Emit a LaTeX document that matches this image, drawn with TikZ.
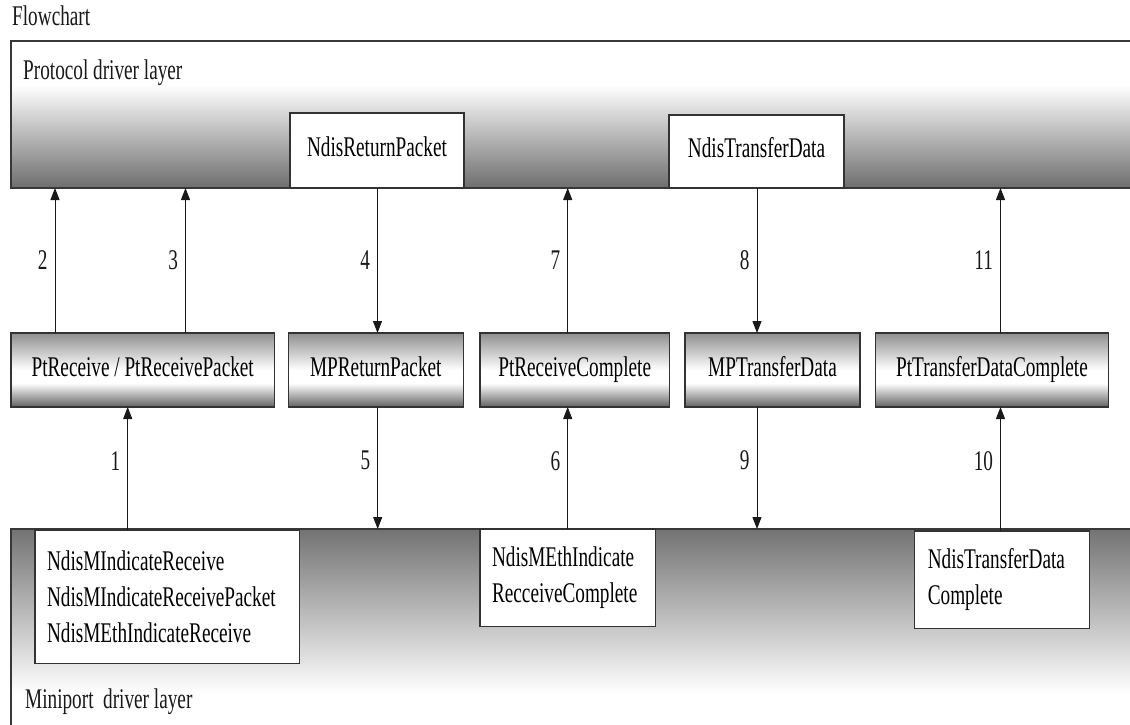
\documentclass[tikz,border=0pt]{standalone}
\usepackage{fontspec}
\setmainfont{Liberation Serif}[FakeStretch=0.675]
\usetikzlibrary{arrows.meta}
\pgfdeclareverticalshading{layertop}{100bp}{color(0bp)=(black!57); color(25bp)=(black!57); color(60bp)=(white); color(100bp)=(white)}
\pgfdeclareverticalshading{layerbot}{100bp}{color(0bp)=(white); color(33bp)=(white); color(75bp)=(black!55); color(100bp)=(black!55)}
\pgfdeclareverticalshading{midbox}{100bp}{color(0bp)=(black!62); color(25bp)=(black!62); color(41bp)=(white); color(50bp)=(white); color(75bp)=(black!44); color(100bp)=(black!44)}
\tikzset{
  layer/.style={draw=none, inner sep=0pt, outer sep=0pt, anchor=north west},
  layerline/.style={draw=black!78, line width=1.8pt},
  wbox/.style={draw=black!80, line width=1.3pt, fill=white, inner sep=0pt, outer sep=0pt},
  onel/.style={text height=20pt, text depth=8pt},
  gbox/.style={wbox, onel, shade, shading=midbox, minimum height=74pt},
  mbox/.style={wbox, align=left, inner xsep=12pt},
  arr/.style={line width=1pt, black!90, -{Triangle[length=12pt,width=9pt]}},
  num/.style={anchor=east, inner sep=0pt, xshift=-7pt, text=black!90},
  ttl/.style={anchor=base west, inner sep=0pt, text=black!90}
}
\begin{document}
\begin{tikzpicture}[x=1pt, y=-1pt, font=\fontsize{28.5}{36}\selectfont]
\useasboundingbox (0,0) rectangle (1130,725);
\fill[white] (0,0) rectangle (1130,725);

% title
\node[ttl] (title) at (12,26) {Flowchart};

% layers
\node[layer, shade, shading=layertop, minimum width=1119pt, minimum height=147pt] (proto) at (11,41) {};
\draw[layerline] (proto.north east) -- (proto.north west) -- (proto.south west) -- (proto.south east);
\node[ttl] (protot) at (23,80) {Protocol driver layer};

\node[layer, shade, shading=layerbot, minimum width=1119pt, minimum height=196pt] (mini) at (11,529) {};
\draw[layerline] (mini.north east) -- (mini.north west) -- (mini.south west);
\node[ttl] (minit) at (25,708) {Miniport\ \ driver layer};

% top boxes
\node[wbox, onel, minimum width=174pt, minimum height=75pt] (nrp) at (377,150.5) {NdisReturnPacket};
\node[wbox, onel, minimum width=175pt, minimum height=73pt] (ntd) at (756.5,151.5) {NdisTransferData};

% middle boxes
\node[gbox, minimum width=263.3pt] (ptr)  at (142.7,370) {PtReceive / PtReceivePacket};
\node[gbox, minimum width=175pt]   (mrp)  at (375.8,370) {MPReturnPacket};
\node[gbox, minimum width=189.3pt] (prc)  at (574.7,370) {PtReceiveComplete};
\node[gbox, minimum width=175pt]   (mtd)  at (772.5,370) {MPTransferData};
\node[gbox, minimum width=232.6pt] (ptdc) at (992,370)   {PtTransferDataComplete};

% bottom boxes
\node[mbox, text width=240.3pt, minimum height=133.3pt] (b1) at (167.2,596.7)
  {NdisMIndicateReceive\\NdisMIndicateReceivePacket\\NdisMEthIndicateReceive};
\node[mbox, text width=151.3pt, minimum height=97.7pt] (b2) at (567.7,577.9)
  {NdisMEthIndicate\\RecceiveComplete};
\node[mbox, inner xsep=13.5pt, text width=148pt, minimum height=97.3pt] (b3) at (1001.8,579.7)
  {NdisTransferData\\Complete};

% connector x positions
\coordinate (c1) at (127.7,0);
\coordinate (c2) at (55,0);
\coordinate (c3) at (185.5,0);
\coordinate (c4) at (377.5,0);
\coordinate (c5) at (377.7,0);
\coordinate (c6) at (567.7,0);
\coordinate (c7) at (567.7,0);
\coordinate (c8) at (757,0);
\coordinate (c9) at (757,0);
\coordinate (c10) at (1000.5,0);
\coordinate (c11) at (1000.5,0);

% upper arrows
\draw[arr] (ptr.north -| c2) -- node[num] (n2) {2} (proto.south -| c2);
\draw[arr] (ptr.north -| c3) -- node[num] (n3) {3} (proto.south -| c3);
\draw[arr] (nrp.south -| c4) -- node[num] (n4) {4} (mrp.north -| c4);
\draw[arr] (prc.north -| c7) -- node[num] (n7) {7} (proto.south -| c7);
\draw[arr] (ntd.south -| c8) -- node[num] (n8) {8} (mtd.north -| c8);
\draw[arr] (ptdc.north -| c11) -- node[num] (n11) {11} (proto.south -| c11);

% lower arrows
\draw[arr] (b1.north -| c1) -- node[num, pos=0.56] (n1) {1} (ptr.south -| c1);
\draw[arr] (mrp.south -| c5) -- node[num, pos=0.44] (n5) {5} (mini.north -| c5);
\draw[arr] (b2.north -| c6) -- node[num, pos=0.56] (n6) {6} (prc.south -| c6);
\draw[arr] (mtd.south -| c9) -- node[num, pos=0.44] (n9) {9} (mini.north -| c9);
\draw[arr] (b3.north -| c10) -- node[num, pos=0.56] (n10) {10} (ptdc.south -| c10);
\end{tikzpicture}
\end{document}
